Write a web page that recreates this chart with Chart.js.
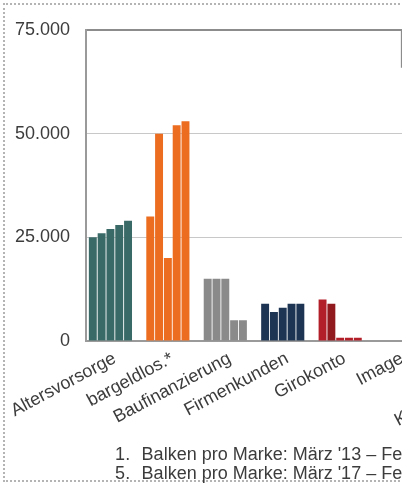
<!DOCTYPE html>
<html>
<head>
<meta charset="utf-8">
<script src="https://cdn.jsdelivr.net/npm/chart.js@4/dist/chart.umd.min.js"></script>
<style>
  html, body { margin: 0; padding: 0; background: #fff; overflow: hidden; }
  #stage { position: relative; width: 402px; height: 491px; overflow: hidden; }
  #frame { position: absolute; left: 3px; top: 3px; width: 760px; height: 475px; border: 2px dotted #b4b4b4; }
  #chart { position: absolute; left: 0; top: 0; }
</style>
</head>
<body>
<div id="stage">
  <div id="frame"></div>
  <canvas id="chart" width="560" height="491"></canvas>
</div>
<script>
// Brands / topics on the x axis
const categories = ['Altersvorsorge', 'bargeldlos.*', 'Baufinanzierung', 'Firmenkunden', 'Girokonto', 'Image', 'Karten', 'Kfz-Versicherung'];

// One bar per period and brand (1. bar = März '13 – Feb. '14 ... 5. bar = März '17 – Feb. '18)
const periods = ["März '13 – Feb. '14", "März '14 – Feb. '15", "März '15 – Feb. '16", "März '16 – Feb. '17", "März '17 – Feb. '18", ""];
const bar1 = [25000, 30000, 15000, 9000, 10000, 0, null, null];
const bar2 = [26000, 50000, 15000, 7000, 9000, 0, null, null];
const bar3 = [27000, 20000, 15000, 8000, 800, 0, null, null];
const bar4 = [28000, 52000, 5000, 9000, 800, 0, null, null];
const bar5 = [29000, 53000, 5000, 9000, 800, 0, null, null];
const bar6 = [null, null, null, null, null, null, null, null]; // sixth slot per brand stays empty

// Value axis ticks
const yTicks = [0, 25000, 50000, 75000];

// Footnotes below the chart
const noteNumbers = ['1.', '5.'];
const noteTexts = ["Balken pro Marke: März '13 – Feb. '14", "Balken pro Marke: März '17 – Feb. '18"];

const FONT = "'Liberation Sans', Arial, sans-serif";
const TEXT = '#3c3c3c';
const brandColors = ['#3a6a67', '#ec6d1f', '#8a8a8a', '#1e3453', '#b21f29', '#8a8a8a', '#8a8a8a', '#8a8a8a'];

function barColor(dataIndex, seriesIndex) {
  if (dataIndex === 4 && seriesIndex === 1) return '#911a1f';
  return brandColors[dataIndex];
}

const fmt = v => String(v).replace(/\B(?=(\d{3})+(?!\d))/g, '.');

const footnotes = {
  id: 'footnotes',
  afterDraw(chart) {
    const { ctx, chartArea } = chart;
    ctx.save();
    ctx.font = '18px ' + FONT;
    ctx.fillStyle = TEXT;
    ctx.textBaseline = 'middle';
    ctx.textAlign = 'left';
    noteNumbers.forEach((num, k) => {
      const y = chartArea.bottom + 114 + k * 19;
      ctx.fillText(num, chartArea.left + 29, y);
      ctx.fillText(noteTexts[k], chartArea.left + 55.5, y);
    });
    ctx.restore();
  }
};

// Edge of the legend panel that sits on the upper right of the plot
const legendPanel = {
  id: 'legendPanel',
  afterDraw(chart) {
    const { ctx, chartArea } = chart;
    ctx.save();
    ctx.strokeStyle = '#8c8c8c';
    ctx.lineWidth = 1.5;
    ctx.strokeRect(chartArea.left + 315.5, chartArea.top, 300, 37);
    ctx.restore();
  }
};

const seriesValues = [bar1, bar2, bar3, bar4, bar5, bar6];

new Chart(document.getElementById('chart'), {
  type: 'bar',
  data: {
    labels: categories,
    datasets: seriesValues.map((vals, i) => ({
      label: periods[i],
      data: vals,
      backgroundColor: c => barColor(c.dataIndex, i),
      borderWidth: 0,
      barPercentage: 0.9,
      categoryPercentage: 0.92
    }))
  },
  options: {
    responsive: false,
    animation: false,
    devicePixelRatio: 1,
    layout: { padding: { top: 30, right: 14.4, bottom: 0, left: 0 } },
    plugins: { legend: { display: false }, tooltip: { enabled: false } },
    scales: {
      x: {
        grid: { display: false, drawTicks: false },
        border: { display: true, color: '#9a9a9a', width: 1.5 },
        ticks: {
          autoSkip: false, minRotation: 28, maxRotation: 28, padding: 7,
          color: TEXT, font: { family: FONT, size: 18 }
        },
        afterFit: s => { s.height = 150; }
      },
      y: {
        min: 0, max: 75000,
        afterBuildTicks: s => { s.ticks = yTicks.map(v => ({ value: v })); },
        ticks: { padding: 16, color: TEXT, font: { family: FONT, size: 18 }, callback: v => fmt(v) },
        grid: {
          drawTicks: false,
          color: c => (c.tick && c.tick.value === 75000) ? '#8c8c8c' : (c.tick && c.tick.value === 0 ? '#9a9a9a' : '#c8c8c8'),
          lineWidth: c => (c.tick && c.tick.value === 75000) ? 2 : 1
        },
        border: { color: '#9a9a9a', width: 2 },
        afterFit: s => { s.width = 86; }
      }
    }
  },
  plugins: [footnotes, legendPanel]
});
</script>
</body>
</html>
